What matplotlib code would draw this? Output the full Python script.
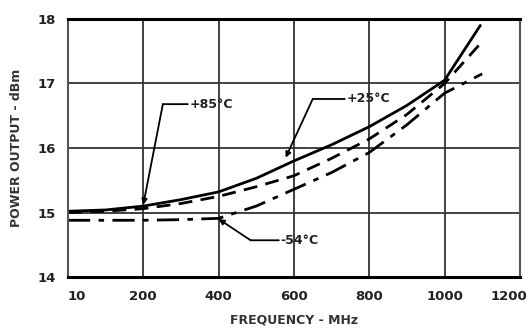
import matplotlib
matplotlib.use("Agg")
import matplotlib.pyplot as plt
import matplotlib.transforms as mtransforms

# Frequency (MHz); the first tick is labelled "10"
freq = [0, 100, 200, 300, 400, 500, 600, 700, 800, 900, 1000, 1095]
p_25 = [15.02, 15.04, 15.10, 15.20, 15.32, 15.53, 15.80, 16.05, 16.33, 16.66, 17.05, 17.90]
freq_85 = [0, 100, 200, 300, 400, 500, 600, 700, 800, 900, 1000, 1100]
p_85 = [15.00, 15.02, 15.06, 15.14, 15.25, 15.40, 15.57, 15.84, 16.14, 16.52, 17.00, 17.65]
freq_54 = [0, 100, 200, 300, 400, 500, 600, 700, 800, 900, 1000, 1100]
p_54 = [14.88, 14.88, 14.88, 14.89, 14.91, 15.10, 15.36, 15.62, 15.93, 16.36, 16.85, 17.15]

xticks = [0, 200, 400, 600, 800, 1000, 1200]
xticklabels = ["10", "200", "400", "600", "800", "1000", "1200"]
yticks = [14, 15, 16, 17, 18]

fig = plt.figure(figsize=(5.31, 3.33), dpi=100)
ax = fig.add_axes([0.128, 0.168, 0.851, 0.775])

ax.set_xlim(0, 1200)
ax.set_ylim(14, 18)
ax.set_xticks(xticks)
ax.set_xticklabels(xticklabels)
ax.set_yticks(yticks)
ax.grid(True, color="#333333", linewidth=1.3)
ax.set_axisbelow(True)
for s in ["top", "bottom"]:
    ax.spines[s].set_linewidth(2.2)
    ax.spines[s].set_color("black")
for s in ["left", "right"]:
    ax.spines[s].set_linewidth(1.5)
    ax.spines[s].set_color("#555555")
ax.tick_params(length=0, pad=9, labelsize=9.5, colors="#222222")
for lab in ax.get_xticklabels() + ax.get_yticklabels():
    lab.set_fontweight("bold")

# shift first and last x tick labels inward as in the reference
xl = ax.get_xticklabels()
xl[0].set_transform(xl[0].get_transform() + mtransforms.ScaledTranslation(9 / 100, 0, fig.dpi_scale_trans))
xl[-1].set_transform(xl[-1].get_transform() + mtransforms.ScaledTranslation(-11 / 100, 0, fig.dpi_scale_trans))

ax.plot(freq, p_25, color="black", lw=2.0, solid_capstyle="round")
ax.plot(freq_85, p_85, color="black", lw=2.0, linestyle=(0, (5, 3)))
ax.plot(freq_54, p_54, color="black", lw=2.0, linestyle=(0, (8, 3, 2, 3)))

ax.set_xlabel("FREQUENCY - MHz", fontsize=9, fontweight="bold", color="#333333", labelpad=8)
ax.set_ylabel("POWER OUTPUT - dBm", fontsize=9, fontweight="bold", color="#333333", labelpad=10)

arrow = dict(arrowstyle="-|>", color="black", lw=1.3, mutation_scale=8, shrinkA=0, shrinkB=0)
line = dict(arrowstyle="-", color="black", lw=1.3, shrinkA=0, shrinkB=0)
tk = dict(fontsize=9, fontweight="bold", va="center", ha="left", color="#222222")

# +25 C label
ax.annotate("", xy=(578, 15.85), xytext=(650, 16.76), arrowprops=arrow)
ax.annotate("", xy=(650, 16.76), xytext=(735, 16.76), arrowprops=line)
ax.text(740, 16.76, "+25°C", **tk)
# +85 C label
ax.annotate("", xy=(200, 15.12), xytext=(252, 16.68), arrowprops=arrow)
ax.annotate("", xy=(252, 16.68), xytext=(318, 16.68), arrowprops=line)
ax.text(322, 16.68, "+85°C", **tk)
# -54 C label
ax.annotate("", xy=(400, 14.90), xytext=(485, 14.57), arrowprops=arrow)
ax.annotate("", xy=(485, 14.57), xytext=(560, 14.57), arrowprops=line)
ax.text(563, 14.57, "-54°C", **tk)

fig.savefig("out.png", dpi=100)
